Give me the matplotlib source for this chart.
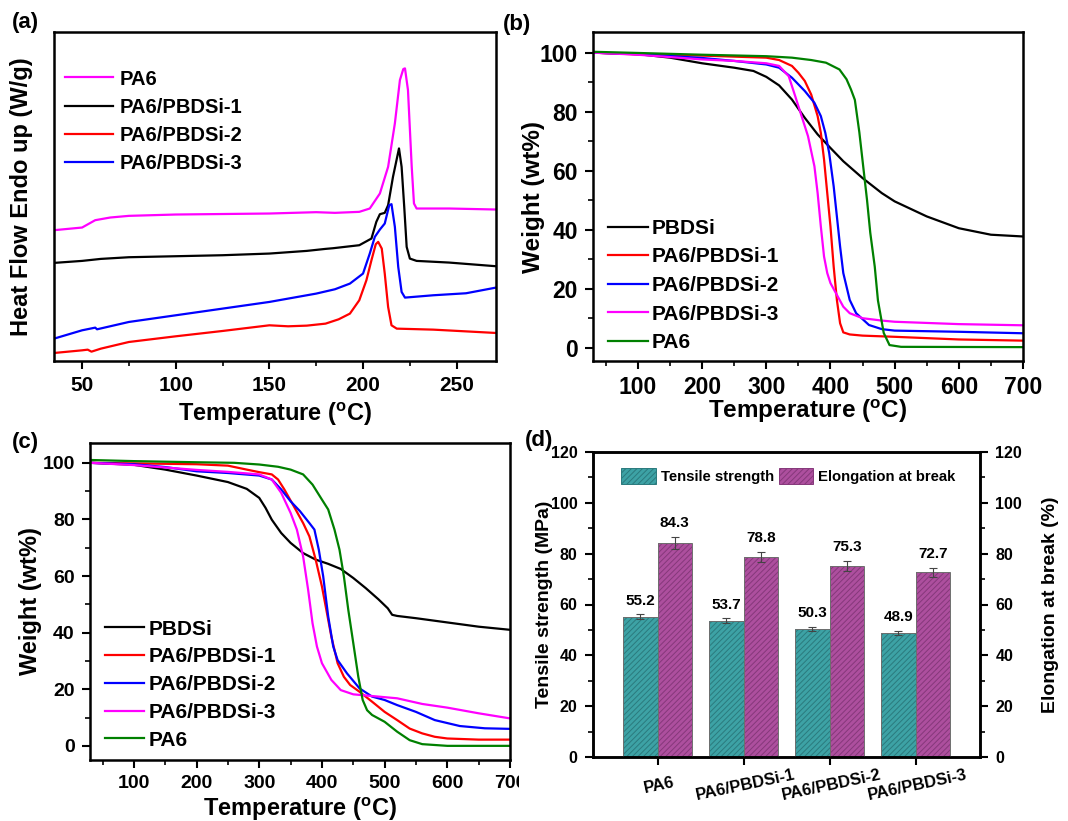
import matplotlib
matplotlib.use('Agg')
import matplotlib.pyplot as plt
from matplotlib.lines import Line2D
from matplotlib.patches import Patch, Rectangle
from matplotlib.ticker import MultipleLocator
import numpy as np

plt.rcParams['font.family'] = ['Liberation Sans', 'DejaVu Sans']
plt.rcParams['font.weight'] = 'bold'
plt.rcParams['axes.labelweight'] = 'bold'
plt.rcParams['mathtext.fontset'] = 'custom'
plt.rcParams['mathtext.rm'] = 'Liberation Sans:bold'
plt.rcParams['mathtext.bf'] = 'Liberation Sans:bold'
plt.rcParams['mathtext.it'] = 'Liberation Sans:bold'
plt.rcParams['hatch.linewidth'] = 0.7

# ---------------- (a) DSC data (arbitrary heat-flow units) ----------------
dsc_pa6_T = [35, 50, 57, 65, 75, 100, 150, 175, 185, 198, 203.6, 209, 213.4, 217, 219.7, 221.5, 222.4, 224, 226, 227.2, 228.6, 246, 271]
dsc_pa6_H = [3.92, 4.00, 4.22, 4.30, 4.35, 4.39, 4.42, 4.46, 4.44, 4.47, 4.57, 5.02, 5.82, 7.12, 8.42, 8.75, 8.77, 8.12, 5.82, 4.72, 4.57, 4.57, 4.54]

dsc_s1_T = [35, 50, 60, 75, 100, 125, 150, 170, 180, 184, 198, 204.5, 207.1, 209, 211.6, 213.4, 216, 219.2, 220.6, 222, 223.3, 225, 228.6, 246, 271]
dsc_s1_H = [2.94, 3.00, 3.06, 3.11, 3.14, 3.17, 3.22, 3.30, 3.36, 3.38, 3.47, 3.67, 4.17, 4.40, 4.44, 4.67, 5.52, 6.37, 5.82, 4.62, 3.42, 3.07, 3.00, 2.95, 2.84]

dsc_s2_T = [35, 50, 53, 55, 60, 75, 100, 125, 150, 160, 170, 180, 187, 193, 198, 201.8, 204.5, 206.8, 208.1, 210, 211.6, 213.4, 215.2, 218, 237.5, 271]
dsc_s2_H = [0.24, 0.32, 0.34, 0.28, 0.37, 0.57, 0.74, 0.90, 1.07, 1.04, 1.06, 1.12, 1.25, 1.42, 1.82, 2.42, 3.02, 3.50, 3.57, 3.37, 2.62, 1.62, 1.07, 0.97, 0.94, 0.84]

dsc_s3_T = [35, 50, 57, 58, 75, 100, 125, 150, 175, 185, 193, 200, 203.6, 206.3, 209, 211.6, 214, 215.2, 217, 218.8, 220.6, 222.4, 237.5, 255, 271]
dsc_s3_H = [0.67, 0.92, 1.00, 0.95, 1.17, 1.37, 1.57, 1.77, 2.02, 2.15, 2.32, 2.62, 3.22, 3.72, 3.94, 4.12, 4.67, 4.70, 4.02, 2.82, 2.07, 1.90, 1.97, 2.03, 2.20]

# ---------------- (b) TGA (N2) ----------------
b_pbdsi_T = [30, 100, 150, 200, 250, 280, 300, 320, 340, 360, 380, 400, 420, 450, 480, 500, 550, 600, 650, 700]
b_pbdsi_W = [100, 99.5, 98.3, 96.4, 94.9, 93.8, 91.8, 88.9, 84.1, 77.9, 72.3, 67.7, 63.2, 57.5, 52.4, 49.6, 44.5, 40.5, 38.3, 37.7]

b_s1_T = [30, 100, 200, 300, 320, 340, 350, 360, 370, 380, 385, 390, 395, 400, 405, 410, 415, 420, 430, 450, 500, 600, 700]
b_s1_W = [100, 99.4, 99.0, 98.3, 97.5, 95.5, 93.2, 90.4, 85.8, 78.5, 72.8, 63.8, 52.4, 41.1, 27.5, 16.2, 8.3, 5.2, 4.5, 4.1, 3.7, 2.8, 2.4]

b_s2_T = [30, 100, 200, 250, 300, 320, 340, 360, 375, 385, 392, 398, 405, 410, 415, 420, 430, 440, 460, 480, 500, 600, 700]
b_s2_W = [100, 99.5, 98.2, 97.2, 96.0, 94.9, 91.5, 87.0, 83.0, 78.5, 72.8, 66.0, 54.7, 44.5, 34.3, 25.3, 16.2, 11.7, 7.7, 6.3, 5.8, 5.4, 4.9]

b_s3_T = [30, 100, 200, 250, 300, 320, 335, 345, 355, 365, 375, 380, 385, 390, 395, 400, 410, 420, 430, 450, 480, 500, 600, 700]
b_s3_W = [100, 99.3, 97.7, 97.2, 96.4, 95.5, 92.0, 85.3, 78.5, 71.7, 61.5, 52.4, 41.1, 30.9, 25.3, 21.9, 17.9, 13.9, 11.7, 10.0, 9.2, 8.8, 8.0, 7.6]

b_pa6_T = [30, 100, 200, 300, 340, 370, 393, 414, 425, 432, 438, 445, 451, 457, 462, 469, 474, 483, 492, 510, 700]
b_pa6_W = [100.3, 99.9, 99.3, 98.8, 98.3, 97.5, 96.6, 94.3, 91.0, 87.5, 84.0, 73.0, 61.5, 50.0, 39.0, 27.5, 16.0, 5.0, 0.9, 0.3, 0.2]

# ---------------- (c) TGA (air) ----------------
c_pbdsi_T = [30, 100, 150, 200, 250, 280, 300, 310, 320, 335, 350, 370, 390, 410, 430, 450, 470, 490, 505, 512, 520, 550, 600, 650, 700]
c_pbdsi_W = [100, 99.3, 97.6, 95.5, 93.2, 90.8, 87.6, 84.1, 79.9, 75.2, 71.7, 68.1, 65.8, 64.3, 62.5, 59.3, 55.7, 51.8, 48.6, 46.3, 45.9, 45.1, 43.6, 42.1, 41.0]

c_s1_T = [30, 100, 200, 250, 280, 300, 320, 330, 340, 355, 370, 380, 390, 400, 408, 415, 425, 435, 445, 460, 480, 500, 520, 540, 560, 580, 600, 650, 700]
c_s1_W = [100, 99.8, 99.5, 99.0, 97.6, 96.7, 95.9, 94.1, 90.6, 84.7, 78.7, 74.0, 65.8, 56.3, 46.9, 38.6, 29.2, 24.4, 21.5, 19.1, 15.6, 12.0, 9.1, 6.1, 4.4, 3.2, 2.6, 2.2, 2.2]

c_s2_T = [30, 100, 150, 200, 250, 300, 320, 335, 350, 365, 380, 388, 395, 402, 410, 418, 425, 440, 460, 480, 500, 520, 550, 580, 620, 660, 700]
c_s2_W = [100, 99.5, 98.5, 97.0, 96.4, 95.5, 94.1, 90.6, 86.4, 82.9, 78.7, 76.4, 69.3, 59.9, 45.7, 35.1, 30.3, 25.6, 20.3, 17.4, 16.2, 14.4, 12.0, 9.1, 7.0, 6.2, 6.0]

c_s3_T = [30, 100, 200, 250, 300, 320, 335, 350, 360, 370, 378, 385, 392, 400, 415, 430, 450, 480, 520, 560, 600, 650, 700]
c_s3_W = [100, 99.2, 97.5, 96.8, 95.9, 94.1, 89.4, 82.3, 76.4, 66.9, 55.1, 43.3, 35.1, 29.2, 23.3, 19.7, 18.2, 17.6, 16.8, 14.8, 13.5, 11.5, 9.7]

c_pa6_T = [30, 100, 200, 260, 300, 330, 350, 370, 385, 400, 410, 420, 428, 435, 442, 450, 458, 465, 472, 480, 500, 520, 540, 560, 600, 700]
c_pa6_W = [101, 100.6, 100.2, 100.0, 99.4, 98.6, 97.6, 95.9, 92.3, 87.0, 83.5, 76.4, 69.3, 59.9, 48.1, 36.3, 24.4, 16.2, 12.6, 10.9, 8.5, 5.0, 2.0, 0.6, 0.0, 0.0]

# ---------------- (d) mechanical properties ----------------
samples = ['PA6', 'PA6/PBDSi-1', 'PA6/PBDSi-2', 'PA6/PBDSi-3']
tensile = [55.2, 53.7, 50.3, 48.9]
tensile_err = [0.9, 0.8, 0.9, 0.8]
elong = [84.3, 78.8, 75.3, 72.7]
elong_err = [2.4, 1.9, 2.0, 1.8]

W, H = 1068, 821
fig = plt.figure(figsize=(W / 100, H / 100), dpi=100)


def rect(l, t, r, b):
    return [l / W, 1 - b / H, (r - l) / W, (b - t) / H]


deg_label = r'Temperature ($^{\mathbf{o}}$C)'
LW = 1.6
SP = 1.8


def style(ax, fs):
    for s in ax.spines.values():
        s.set_linewidth(SP)
    ax.tick_params(which='major', direction='out', length=6, width=1.5, labelsize=fs, pad=5)
    ax.tick_params(which='minor', direction='out', length=3.5, width=1.2)
    for lab in ax.get_xticklabels() + ax.get_yticklabels():
        lab.set_fontweight('bold')


# ---- (a)
axa = fig.add_axes(rect(54, 32, 496, 361))
axa.plot(dsc_pa6_T, dsc_pa6_H, color='#ff00ff', lw=LW, label='PA6')
axa.plot(dsc_s1_T, dsc_s1_H, color='black', lw=LW, label='PA6/PBDSi-1')
axa.plot(dsc_s2_T, dsc_s2_H, color='#ff0000', lw=LW, label='PA6/PBDSi-2')
axa.plot(dsc_s3_T, dsc_s3_H, color='#0000ff', lw=LW, label='PA6/PBDSi-3')
axa.set_xlim(35, 271)
axa.set_ylim(0, 9.86)
axa.xaxis.set_major_locator(MultipleLocator(50))
axa.xaxis.set_minor_locator(MultipleLocator(25))
style(axa, 15)
axa.tick_params(axis='y', which='both', left=False, labelleft=False)
axa.set_xlabel(deg_label, fontsize=17)
axa.xaxis.set_label_coords(0.5, -0.12)
axa.set_ylabel('Heat Flow Endo up (W/g)', fontsize=17)
axa.yaxis.set_label_coords(-0.048, 0.5)
axa.legend(loc='upper left', bbox_to_anchor=(0.025, 0.886), frameon=False, fontsize=14.5,
           handlelength=2.4, handletextpad=0.3, labelspacing=0.45, borderaxespad=0, borderpad=0)

# ---- (b)
axb = fig.add_axes(rect(593, 32, 1023, 361))
axb.plot(b_pbdsi_T, b_pbdsi_W, color='black', lw=LW, label='PBDSi')
axb.plot(b_s1_T, b_s1_W, color='#ff0000', lw=LW, label='PA6/PBDSi-1')
axb.plot(b_s2_T, b_s2_W, color='#0000ff', lw=LW, label='PA6/PBDSi-2')
axb.plot(b_s3_T, b_s3_W, color='#ff00ff', lw=LW, label='PA6/PBDSi-3')
axb.plot(b_pa6_T, b_pa6_W, color='#008000', lw=LW, label='PA6')
axb.set_xlim(30, 700)
axb.set_ylim(-4.5, 107)
axb.xaxis.set_major_locator(MultipleLocator(100))
axb.xaxis.set_minor_locator(MultipleLocator(50))
axb.yaxis.set_major_locator(MultipleLocator(20))
axb.yaxis.set_minor_locator(MultipleLocator(10))
style(axb, 16.5)
axb.set_xlabel(deg_label, fontsize=17.5)
axb.xaxis.set_label_coords(0.5, -0.112)
axb.set_ylabel('Weight (wt%)', fontsize=17.5)
axb.yaxis.set_label_coords(-0.112, 0.5)
axb.legend(loc='upper left', bbox_to_anchor=(0.035, 0.432), frameon=False, fontsize=15,
           handlelength=1.9, handletextpad=0.2, labelspacing=0.46, borderaxespad=0, borderpad=0)

# ---- (c)
axc = fig.add_axes(rect(90, 443, 510, 760))
axc.plot(c_pbdsi_T, c_pbdsi_W, color='black', lw=LW, label='PBDSi')
axc.plot(c_s1_T, c_s1_W, color='#ff0000', lw=LW, label='PA6/PBDSi-1')
axc.plot(c_s2_T, c_s2_W, color='#0000ff', lw=LW, label='PA6/PBDSi-2')
axc.plot(c_s3_T, c_s3_W, color='#ff00ff', lw=LW, label='PA6/PBDSi-3')
axc.plot(c_pa6_T, c_pa6_W, color='#008000', lw=LW, label='PA6')
axc.set_xlim(30, 700)
axc.set_ylim(-5, 107)
axc.xaxis.set_major_locator(MultipleLocator(100))
axc.xaxis.set_minor_locator(MultipleLocator(50))
axc.yaxis.set_major_locator(MultipleLocator(20))
axc.yaxis.set_minor_locator(MultipleLocator(10))
style(axc, 14)
axc.set_xlabel(deg_label, fontsize=17)
axc.xaxis.set_label_coords(0.5, -0.112)
axc.set_ylabel('Weight (wt%)', fontsize=17)
axc.yaxis.set_label_coords(-0.114, 0.5)
axc.legend(loc='upper left', bbox_to_anchor=(0.035, 0.443), frameon=False, fontsize=15,
           handlelength=1.9, handletextpad=0.2, labelspacing=0.42, borderaxespad=0, borderpad=0)

# white cover hiding right part of panel (c) tick labels (composite figure)
cover = Rectangle((519 / W, 0), 1 - 519 / W, 1 - 425 / H, transform=fig.transFigure,
                  facecolor='white', edgecolor='none', zorder=5)
fig.patches.append(cover)

# ---- (d)
axd = fig.add_axes(rect(593, 452, 980, 757))
axd.set_zorder(10)
x = np.arange(len(samples))
bw = 0.4
teal, teal_h = '#3da2a5', '#2b7a7d'
mag, mag_h = '#ad4f9e', '#85387a'
axd.bar(x - bw, tensile, bw, align='edge', color=teal, edgecolor=teal_h, hatch='//////', linewidth=0, zorder=2)
axd.bar(x, elong, bw, align='edge', color=mag, edgecolor=mag_h, hatch='//////', linewidth=0, zorder=2)
axd.bar(x - bw, tensile, bw, align='edge', fill=False, edgecolor='#6e6e6e', linewidth=0.7, zorder=3)
axd.bar(x, elong, bw, align='edge', fill=False, edgecolor='#6e6e6e', linewidth=0.7, zorder=3)
axd.errorbar(x - bw / 2, tensile, yerr=tensile_err, fmt='none', ecolor='#444444', elinewidth=0.8, capsize=3, capthick=0.8, zorder=4)
axd.errorbar(x + bw / 2, elong, yerr=elong_err, fmt='none', ecolor='#444444', elinewidth=0.8, capsize=3, capthick=0.8, zorder=4)
for xi, v, e in zip(x - bw / 2, tensile, tensile_err):
    axd.text(xi, v + e + 2.6, f'{v:.1f}', ha='center', va='bottom', fontsize=11, fontweight='bold')
for xi, v, e in zip(x + bw / 2, elong, elong_err):
    axd.text(xi, v + e + 2.6, f'{v:.1f}', ha='center', va='bottom', fontsize=11, fontweight='bold')
axd.set_xlim(-0.75, 3.75)
axd.set_ylim(0, 120)
axd.yaxis.set_major_locator(MultipleLocator(20))
axd.yaxis.set_minor_locator(MultipleLocator(10))
axd.set_xticks(x)
axd.set_xticklabels(samples, rotation=12, ha='center', rotation_mode='anchor')
style(axd, 11.5)
axd.tick_params(axis='x', labelsize=12, pad=9)
axd.set_ylabel('Tensile strength (MPa)', fontsize=14)
axd.yaxis.set_label_coords(-0.103, 0.5)
axd2 = axd.twinx()
axd2.set_ylim(0, 120)
axd2.yaxis.set_major_locator(MultipleLocator(20))
axd2.yaxis.set_minor_locator(MultipleLocator(10))
style(axd2, 11.5)
axd2.set_ylabel('Elongation at break (%)', fontsize=14)
axd2.yaxis.set_label_coords(1.16, 0.5)
axd2.set_zorder(11)
leg_handles = [Patch(facecolor=teal, edgecolor=teal_h, hatch='//////', linewidth=0.7),
               Patch(facecolor=mag, edgecolor=mag_h, hatch='//////', linewidth=0.7)]
axd.legend(leg_handles, ['Tensile strength', 'Elongation at break'], loc='center',
           bbox_to_anchor=(0.505, 0.921), ncol=2, frameon=False, fontsize=10.7,
           handlelength=2.35, handleheight=1.28, handletextpad=0.33, columnspacing=0.3,
           borderaxespad=0, borderpad=0)

# panel labels
fig.text(12 / W, 1 - 12 / H, '(a)', fontsize=16, fontweight='bold', va='top', ha='left')
fig.text(503 / W, 1 - 14 / H, '(b)', fontsize=16, fontweight='bold', va='top', ha='left')
fig.text(12 / W, 1 - 432 / H, '(c)', fontsize=16, fontweight='bold', va='top', ha='left')
fig.text(525 / W, 1 - 430 / H, '(d)', fontsize=16, fontweight='bold', va='top', ha='left', zorder=12)

fig.savefig('out.png', dpi=100)
